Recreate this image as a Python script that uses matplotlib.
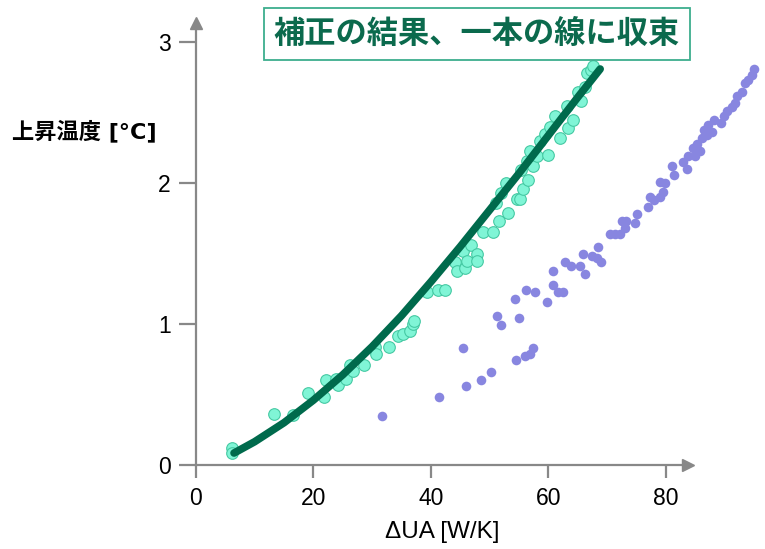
import matplotlib.pyplot as plt

# green: corrected points
green_x = [6.1, 6.1, 13.3, 16.6, 19.0, 21.8, 22.1, 23.9, 24.2, 25.6, 26.2, 26.7, 28.6, 30.5, 30.6,
           32.9, 34.4, 35.2, 36.4, 37.0, 37.1, 39.3, 41.2, 42.4, 44.1, 44.4, 45.5, 45.8, 46.1, 46.9,
           47.8, 47.8, 48.9, 50.6, 51.1, 51.6, 52.0, 52.8, 53.2, 54.7, 55.1, 55.3, 55.6, 56.3, 56.6,
           56.9, 57.4, 58.0, 58.6, 59.4, 60.0, 60.3, 61.1, 62.0, 63.1, 63.4, 64.1, 65.1, 65.6, 66.2,
           66.5, 67.2, 67.6]
green_y = [0.12, 0.083, 0.36, 0.355, 0.51, 0.485, 0.60, 0.61, 0.57, 0.61, 0.71, 0.67, 0.71, 0.84, 0.785,
           0.84, 0.915, 0.93, 0.95, 1.0, 1.02, 1.23, 1.245, 1.24, 1.44, 1.38, 1.52, 1.395, 1.45, 1.56,
           1.50, 1.45, 1.65, 1.65, 1.86, 1.73, 1.93, 2.00, 1.79, 1.89, 1.89, 2.09, 1.96, 2.16, 2.02,
           2.23, 2.12, 2.19, 2.30, 2.35, 2.20, 2.40, 2.48, 2.32, 2.55, 2.39, 2.45, 2.65, 2.58, 2.68,
           2.78, 2.80, 2.83]

# purple: uncorrected points
purple_x = [31.7, 41.4, 45.4, 46.0, 48.6, 50.3, 51.2, 52.0, 54.3, 54.4, 55.0, 56.0, 56.2, 56.9, 57.4,
            57.7, 59.7, 60.8, 60.8, 61.7, 62.4, 62.8, 63.8, 65.4, 65.8, 66.2, 67.4, 68.2, 68.9, 68.5,
            70.5, 71.3, 72.1, 72.5, 73.0, 73.2, 74.7, 75.0, 77.0, 77.2, 77.9, 78.9, 79.0, 79.5, 79.8,
            81.0, 81.3, 82.9, 83.5, 83.8, 84.6, 84.9, 85.2, 85.8, 86.1, 86.4, 86.9, 87.2, 87.8, 88.1,
            89.4, 89.8, 90.3, 91.2, 91.7, 92.0, 92.9, 93.4, 94.0, 94.6, 95.0]
purple_y = [0.35, 0.48, 0.83, 0.56, 0.605, 0.66, 1.06, 0.99, 1.18, 0.745, 1.04, 0.77, 1.24, 0.79, 0.83,
            1.23, 1.16, 1.28, 1.38, 1.23, 1.23, 1.44, 1.41, 1.41, 1.50, 1.355, 1.48, 1.47, 1.44, 1.55,
            1.64, 1.64, 1.64, 1.73, 1.68, 1.73, 1.72, 1.78, 1.83, 1.90, 1.88, 2.01, 1.90, 1.94, 2.00,
            2.12, 2.06, 2.15, 2.10, 2.19, 2.25, 2.19, 2.28, 2.23, 2.32, 2.38, 2.34, 2.41, 2.36, 2.45,
            2.43, 2.48, 2.51, 2.54, 2.57, 2.62, 2.65, 2.71, 2.73, 2.77, 2.81]

# fitted curve
fit_x = [6.5, 10, 15, 20, 25, 30, 35, 40, 45, 50, 55, 60, 65, 68.8]
fit_y = [0.085, 0.165, 0.30, 0.46, 0.64, 0.84, 1.06, 1.30, 1.55, 1.81, 2.07, 2.34, 2.61, 2.81]

x_ticks = [0, 20, 40, 60, 80]
y_ticks = [0, 1, 2, 3]

GRAY = "#888888"
CJK = ["Noto Sans CJK JP", "DejaVu Sans"]

fig = plt.figure(figsize=(7.65, 5.49), dpi=100)
ax = fig.add_axes([0.256, 0.153, 0.643, 0.806])

ax.scatter(purple_x, purple_y, s=48, color="#8886e0", linewidths=0, zorder=2, clip_on=False)
ax.scatter(green_x, green_y, s=70, color="#80f5d6", edgecolors="#45c9a3", linewidths=0.8,
           zorder=3, clip_on=False)
ax.plot(fit_x, fit_y, color="#006a4c", linewidth=5.5, solid_capstyle="round", zorder=4)

ax.set_xlim(0, 83.7)
ax.set_ylim(0, 3.14)
ax.set_xticks(x_ticks)
ax.set_yticks(y_ticks)

for side in ["top", "right"]:
    ax.spines[side].set_visible(False)
for side in ["left", "bottom"]:
    ax.spines[side].set_color(GRAY)
    ax.spines[side].set_linewidth(1.6)

ax.tick_params(axis="x", direction="out", length=9.5, width=1.6, color=GRAY, pad=6,
               labelsize=16.5)
ax.tick_params(axis="y", direction="out", length=12, width=1.6, color=GRAY, pad=6,
               labelsize=16.5)
for lab in ax.get_xticklabels() + ax.get_yticklabels():
    lab.set_family("Liberation Sans")

# arrow heads on the axes
ax.plot(1, 0, ">", color=GRAY, markersize=9, transform=ax.get_yaxis_transform(), clip_on=False)
ax.plot(0, 1, "^", color=GRAY, markersize=9, transform=ax.get_xaxis_transform(), clip_on=False)

ax.set_xlabel("ΔUA [W/K]", fontsize=17.5, family="Liberation Sans", labelpad=8)
fig.text(0.016, 0.762, "上昇温度 [°C]", fontsize=16, fontweight="bold",
         family=["DejaVu Sans", "Noto Sans CJK JP"], ha="left", va="center")

fig.text(0.6235, 0.938, "補正の結果、一本の線に収束", fontsize=22.5, fontweight="bold",
         color="#0b6a4d", family=CJK, ha="center", va="center",
         bbox=dict(boxstyle="square,pad=0.33", facecolor="white", edgecolor="#3dae8e",
                   linewidth=1.3))

fig.savefig("out.png", dpi=100)
